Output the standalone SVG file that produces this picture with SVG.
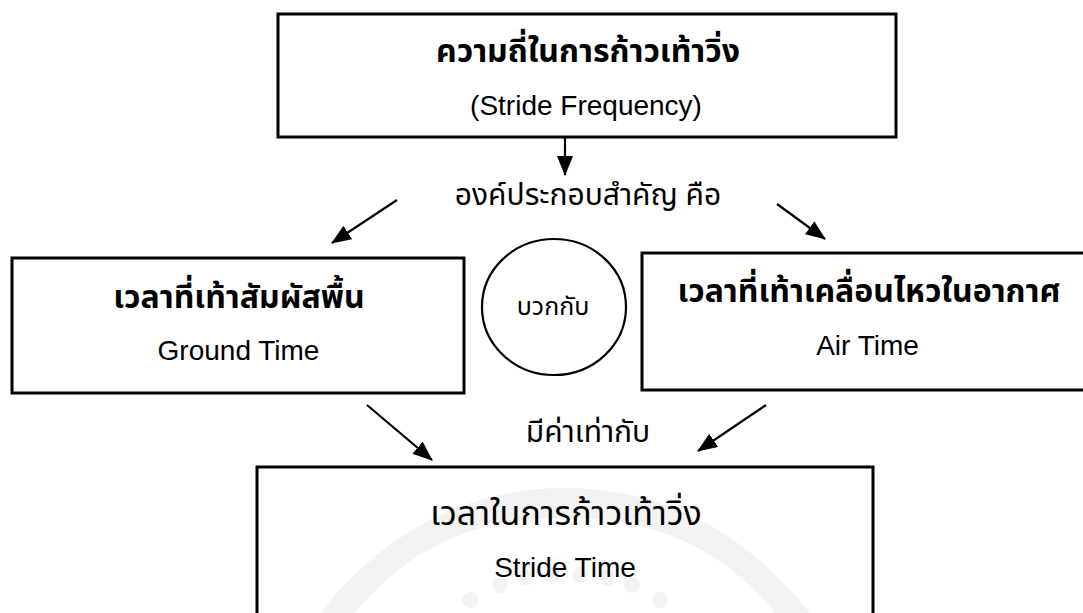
<svg xmlns="http://www.w3.org/2000/svg" width="1083" height="613" viewBox="0 0 1083 613">
<defs>
<style>
.box{fill:#fff;stroke:#000;stroke-width:3}
.circ{fill:#fff;stroke:#000;stroke-width:2.2}
.conn line{stroke:#000;stroke-width:2.2;marker-end:url(#ah)}
.th{font-family:"Noto Sans Thai","Noto Sans","Liberation Sans",sans-serif;font-size:30px;fill:#000;text-anchor:middle}
.thb{font-weight:bold;font-size:32px}
.thl{font-weight:normal}
.en{font-family:"Liberation Sans",Arial,sans-serif;font-size:28px;fill:#000;text-anchor:middle}
.wm{fill:#f3f3f3}
</style>
<marker id="ah" markerUnits="userSpaceOnUse" markerWidth="20" markerHeight="16" refX="19" refY="8" orient="auto">
<path d="M0,0 L20,8 L0,16 Z" fill="#000"/>
</marker>
</defs>
<rect width="1083" height="613" fill="#fff"/>

<g id="top">
<rect class="box" x="278" y="14" width="618" height="123"/>
<text class="th thb" x="588" y="62">ความถี่ในการก้าวเท้าวิ่ง</text>
<text class="en" x="586" y="115">(Stride Frequency)</text>
</g>

<g id="ground">
<rect class="box" x="12" y="258" width="452" height="135"/>
<text class="th thb" x="239" y="308">เวลาที่เท้าสัมผัสพื้น</text>
<text class="en" x="238.5" y="360">Ground Time</text>
</g>

<g id="plus">
<ellipse class="circ" cx="554" cy="307" rx="72" ry="68"/>
<text class="th thl" x="553" y="315" style="font-size:25px">บวกกับ</text>
</g>

<g id="air">
<rect class="box" x="642" y="253" width="455" height="137"/>
<text class="th thb" x="869" y="302">เวลาที่เท้าเคลื่อนไหวในอากาศ</text>
<text class="en" x="867.5" y="355">Air Time</text>
</g>

<g id="stride">
<g id="watermark">
<path class="wm" d="M320,613 C390,525 475,488 565,488 C655,488 740,525 810,613 L775,613 C715,540 645,518 565,518 C485,518 415,540 355,613 Z"/>
<circle class="wm" cx="500" cy="585" r="8"/>
<circle class="wm" cx="525" cy="578" r="8"/>
<circle class="wm" cx="552" cy="575" r="8"/>
<circle class="wm" cx="580" cy="575" r="8"/>
<circle class="wm" cx="607" cy="578" r="8"/>
<circle class="wm" cx="632" cy="585" r="8"/>
<circle class="wm" cx="470" cy="600" r="8"/>
<circle class="wm" cx="660" cy="600" r="8"/>
</g>
<rect x="257" y="467" width="616" height="160" fill="none" stroke="#000" stroke-width="3"/>
<text class="th thl" x="566" y="525" style="font-size:34px">เวลาในการก้าวเท้าวิ่ง</text>
<text class="en" x="565" y="577">Stride Time</text>
</g>

<g id="labels">
<text class="th thl" x="588" y="205">องค์ประกอบสำคัญ คือ</text>
<text class="th thl" x="588" y="442">มีค่าเท่ากับ</text>
</g>

<g id="connectors" class="conn">
<line x1="565" y1="137" x2="565" y2="175"/>
<line x1="397" y1="200" x2="332" y2="243"/>
<line x1="777" y1="204" x2="825" y2="239"/>
<line x1="367" y1="405" x2="432" y2="460"/>
<line x1="766" y1="405" x2="698" y2="451"/>
</g>
</svg>
